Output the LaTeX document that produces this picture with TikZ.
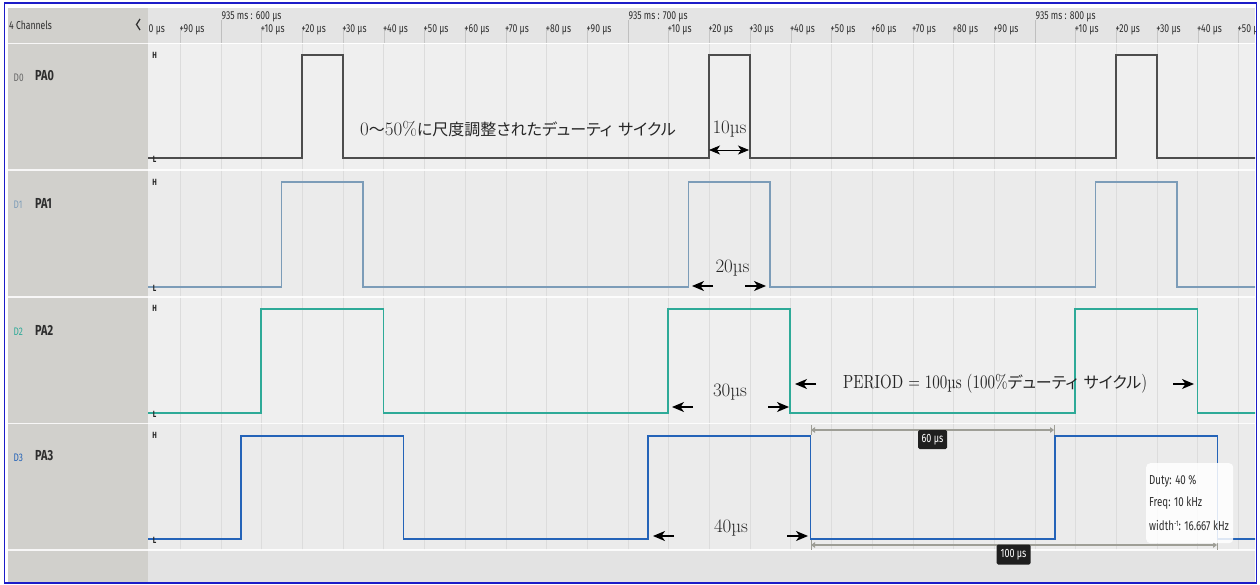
\documentclass[tikz,border=0pt]{standalone}
\usepackage{fontspec}
\usetikzlibrary{arrows.meta}
\newfontfamily\ui[FakeStretch=0.75]{Fira Sans}
\newfontfamily\cjk[RawFeature={+palt}]{Noto Sans CJK JP}
\newfontfamily\annarrow[FakeStretch=0.79]{lmroman10-regular.otf}
\definecolor{panel}{HTML}{D1D0CC}
\definecolor{hdr}{HTML}{E4E4E4}
\definecolor{rowa}{HTML}{EFEFEF}
\definecolor{rowb}{HTML}{EBEBEB}
\definecolor{btm}{HTML}{E3E3E3}
\definecolor{gridc}{HTML}{DCDCDC}
\definecolor{sigA}{HTML}{4D4D4D}
\definecolor{sigB}{HTML}{7C9CB8}
\definecolor{sigC}{HTML}{2EAA98}
\definecolor{sigD}{HTML}{2463B8}
\definecolor{meas}{HTML}{9E9E96}
\definecolor{framec}{HTML}{1C1CC8}
\definecolor{uitext}{HTML}{2E2E2E}
\tikzset{
  tick/.style={font={\ui\fontsize{11.5}{12}\selectfont}, text=uitext, inner sep=0, anchor=west},
  chname/.style={font={\ui\fontsize{14.5}{15}\selectfont\bfseries}, text=uitext, inner sep=0, anchor=west},
  chnum/.style={font={\ui\fontsize{11}{12}\selectfont}, inner sep=0, anchor=west},
  hl/.style={font={\ui\fontsize{9}{10}\selectfont\bfseries}, text=black!85, inner sep=0},
  sigline/.style={line width=1.2pt},
  anno/.style={font={\fontsize{19}{22}\selectfont}, inner sep=0, text=black!85},
  dimarrow/.style={line width=1.3pt, -{Stealth[length=12pt,width=10pt,inset=3.5pt]}},
  measbar/.style={meas, line width=2.2pt, {Triangle[length=4pt,width=5.5pt]}-{Triangle[length=4pt,width=5.5pt]}},
  measend/.style={meas, line width=1pt},
  measlab/.style={fill=black!88, text=white, rounded corners=1.5pt, inner sep=0, font={\ui\fontsize{12}{12}\selectfont}},
  info/.style={font={\ui\fontsize{13}{14}\selectfont}, text=uitext, inner sep=0, anchor=west}
}
\begin{document}
\begin{tikzpicture}[x=1pt,y=-1pt]
\useasboundingbox (0,0) rectangle (1260,584);
\fill[white] (0,0) rectangle (1260,584);
% panels and rows
\fill[panel] (8,8) rectangle (148,582);
\fill[hdr] (148,8) rectangle (1255,43);
\fill[rowa] (148,44) rectangle (1255,170);
\fill[rowb] (148,170) rectangle (1255,297);
\fill[rowa] (148,297) rectangle (1255,423.5);
\fill[rowb] (148,423.5) rectangle (1255,550);
\fill[btm] (148,550) rectangle (1255,582);
\begin{scope}
\clip (148,8) rectangle (1255,582);
% grid
\foreach \k in {-1,...,25} {
  \draw[gridc, line width=0.8pt] ({221+40.7*\k},44) -- ({221+40.7*\k},550);
  \draw[gridc!90!black, line width=0.6pt] ({221+40.7*\k},27) -- ({221+40.7*\k},43);
}
\foreach \k in {0,10,20} \draw[black!25, line width=0.7pt] ({221+40.7*\k},20) -- ({221+40.7*\k},43);
% tick labels
\node[tick] (t0) at (148.5,30) {0 µs};
\foreach \k in {-1,1,2,...,9,11,12,...,19,21,22,...,26} {
  \pgfmathtruncatemacro\lab{mod(\k+10,10)*10}
  \node[tick] (tk\k) at ({220+40.7*\k},30) {+\lab\ µs};
}
\node[tick] (m600) at (221.5,17) {935 ms : 600 µs};
\node[tick] (m700) at (628.5,17) {935 ms : 700 µs};
\node[tick] (m800) at (1035.5,17) {935 ms : 800 µs};
% signals
\draw[sigline, sigA] (148,158) -| (302,55) -| (343,158) -| (709,55) -| (750,158) -| (1116,55) -| (1157,158) -- (1256,158);
\draw[sigline, sigB] (148,287) -| (281.5,182) -| (363,287) -| (688.5,182) -| (770,287) -| (1095.5,182) -| (1177,287) -- (1256,287);
\draw[sigline, sigC] (148,413) -| (261,309) -| (383.5,413) -| (668,309) -| (790,413) -| (1075,309) -| (1197.5,413) -- (1256,413);
\draw[sigline, sigD] (148,539) -| (241,436) -| (403.5,539) -| (648,436) -| (810.5,539) -| (1055,436) -| (1217.5,539) -- (1256,539);
\end{scope}
% separators
\foreach \y in {43.5,170,297,423.5,550} \draw[white, opacity=0.85, line width=1.3pt] (8,\y) -- (1255,\y);
% H / L markers
\foreach \n/\yh/\yl in {0/55/159, 1/182/288, 2/308/414, 3/435/540} {
  \node[hl] (H\n) at (154.5,\yh) {H};
  \node[hl] (L\n) at (154.5,\yl) {L};
}
% left panel labels
\node[font={\ui\fontsize{11.5}{12}\selectfont}, text=uitext, inner sep=0, anchor=west] (title) at (9,25) {4 Channels};
\draw[black!80, line width=1.3pt] (140,19) -- (136.5,24.5) -- (140,30);
\node[chnum, text=black!60] (d0) at (13.5,77.5) {D0};
\node[chname] (p0) at (35,76) {PA0};
\node[chnum, text=sigB] (d1) at (13.5,204.5) {D1};
\node[chname] (p1) at (35,203) {PA1};
\node[chnum, text=sigC] (d2) at (13.5,331.5) {D2};
\node[chname] (p2) at (35,330) {PA2};
\node[chnum, text=sigD] (d3) at (13.5,457.5) {D3};
\node[chname] (p3) at (35,456) {PA3};
% measurements
\coordinate (m60l) at (811,430);
\coordinate (m60r) at (1054,430);
\draw[measbar] (m60l) -- (m60r);
\draw[measend] (811,425) -- (811,435);
\draw[measend] (1054,425) -- (1054,435);
\node[measlab, minimum width=29pt, minimum height=19pt] (l60) at (932.5,439.5) {60 µs};
\coordinate (m100l) at (811,545);
\coordinate (m100r) at (1217,545);
\draw[measbar] (m100l) -- (m100r);
\draw[measend] (811,540) -- (811,550);
\draw[measend] (1217,540) -- (1217,550);
\node[measlab, minimum width=34pt, minimum height=20pt] (l100) at (1013.5,554.5) {100 µs};
% info box
\node[fill=white, fill opacity=0.85, rounded corners=4pt, minimum width=87pt, minimum height=80pt, anchor=north west, inner sep=0] (infobox) at (1146,463) {};
\node[info] (duty) at (1149,481) {Duty: 40 \%};
\node[info] (freq) at (1149,503) {Freq: 10 kHz};
\node[info] (wid) at (1149,525) {width\raisebox{4pt}{\fontsize{8}{8}\selectfont -1}: 16.667 kHz};
% annotations
\node[anno, anchor=west] (scaled) at (360,129) {0{\cjk\fontsize{16}{22}\selectfont 〜}50\%{\cjk\fontsize{16}{22}\selectfont に尺度調整されたデューティ\hspace{6pt}サイクル}};
\node[anno] (w10) at (729.5,129) {10µs};
\coordinate (a10l) at (709,150);
\coordinate (a10r) at (749,150);
\draw[line width=0.8pt, {Stealth[length=11pt,width=9pt,inset=3pt]}-{Stealth[length=11pt,width=9pt,inset=3pt]}] (a10l) -- (a10r);
\node[anno] (w20) at (732.5,268) {20µs};
\coordinate (a20lt) at (713,286); \coordinate (a20lh) at (692,286);
\coordinate (a20rt) at (745,286); \coordinate (a20rh) at (766,286);
\draw[dimarrow] (a20lt) -- (a20lh);
\draw[dimarrow] (a20rt) -- (a20rh);
\node[anno] (w30) at (730,392) {30µs};
\coordinate (a30lt) at (693,407); \coordinate (a30lh) at (672,407);
\coordinate (a30rt) at (768,407); \coordinate (a30rh) at (789,407);
\draw[dimarrow] (a30lt) -- (a30lh);
\draw[dimarrow] (a30rt) -- (a30rh);
\node[anno, anchor=west] (period) at (843,384) {\annarrow PERIOD = 100µs (100\%{\cjk\fontsize{16}{22}\selectfont デューティ\hspace{6pt}サイクル})};
\coordinate (aplt) at (816,384); \coordinate (aplh) at (795,384);
\coordinate (aprt) at (1173,384); \coordinate (aprh) at (1194,384);
\draw[dimarrow] (aplt) -- (aplh);
\draw[dimarrow] (aprt) -- (aprh);
\node[anno] (w40) at (731,528) {40µs};
\coordinate (a40lt) at (674,536); \coordinate (a40lh) at (653,536);
\coordinate (a40rt) at (787,536); \coordinate (a40rh) at (808,536);
\draw[dimarrow] (a40lt) -- (a40lh);
\draw[dimarrow] (a40rt) -- (a40rh);
% frame
\draw[framec, line width=1.4pt] (4.5,3) rectangle (1256.5,583);
\end{tikzpicture}
\end{document}
